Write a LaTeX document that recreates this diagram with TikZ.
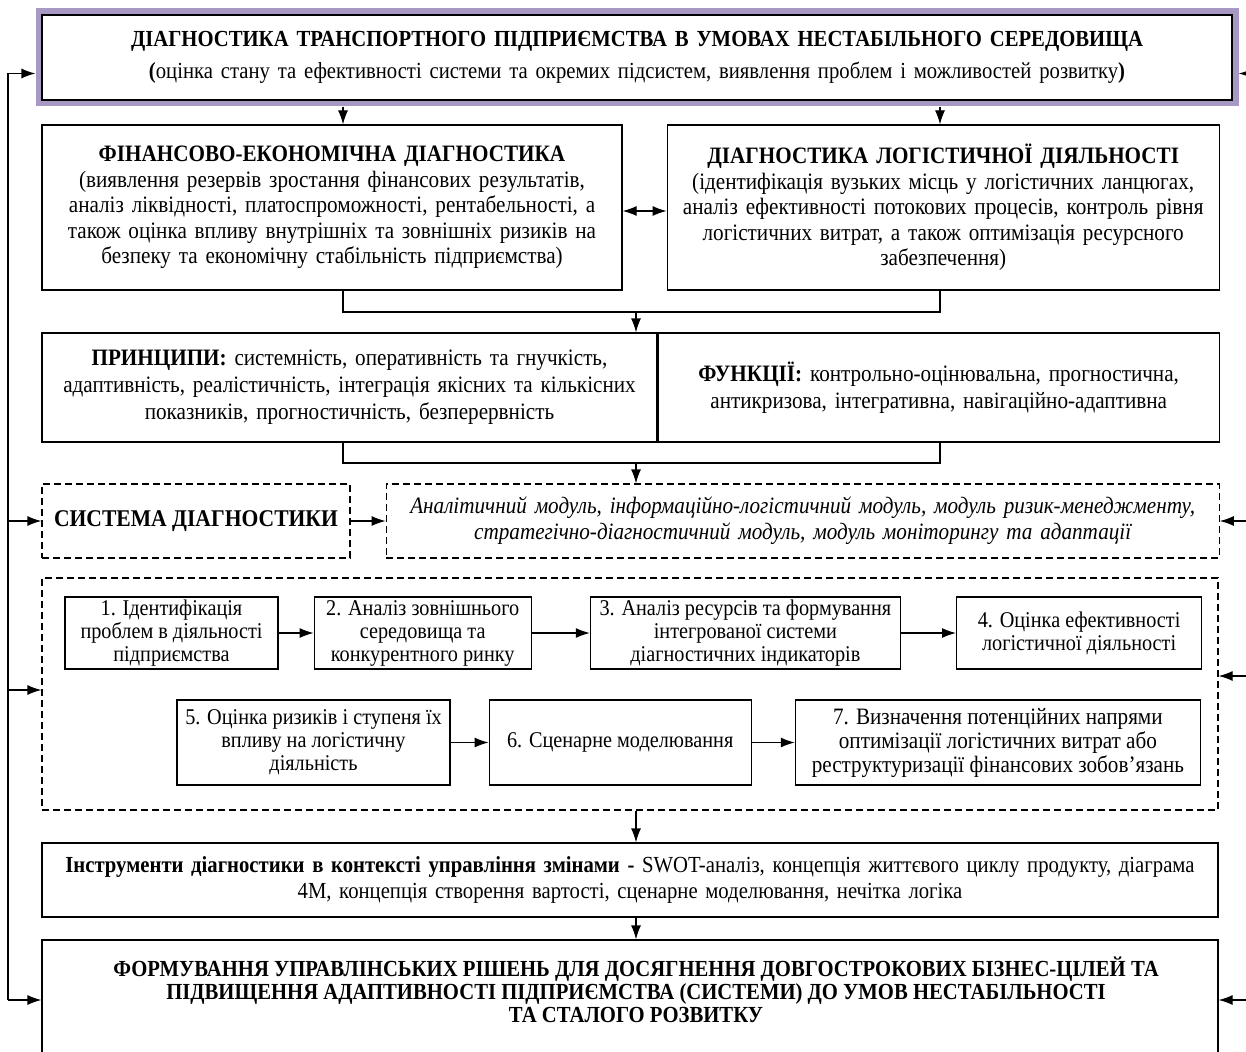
\documentclass[tikz,border=0pt]{standalone}
\usepackage{fontspec}
\setmainfont{Liberation Serif}[FakeStretch=0.9]
\usepackage{tikz}
\usetikzlibrary{arrows.meta, positioning}
\definecolor{framepurple}{RGB}{168,153,196}
\tikzstyle{box} = [rectangle, draw=black, line width=1.2pt, align=center, inner sep=2pt, font=\fontsize{23.5}{25.5}\selectfont]
\tikzstyle{dbox} = [box, dash pattern=on 7pt off 4pt]
\tikzstyle{stepbox} = [box, font=\fontsize{22.5}{23}\selectfont]
\tikzstyle{conn} = [line width=1.2pt]
\tikzstyle{arrow} = [line width=1.2pt, -{Latex[length=14pt, width=10pt]}]
\tikzstyle{darrow} = [line width=1.2pt, {Latex[length=14pt, width=10pt]}-{Latex[length=14pt, width=10pt]}]

\begin{document}
\begin{tikzpicture}[x=1pt, y=-1pt]
\useasboundingbox (0,0) rectangle (1246,1051);

% main block
\node (top) [box, fill=white, preaction={draw=framepurple, line width=13pt}, minimum width=1190pt, minimum height=85pt, text width=1176pt] at (637,57.5)
  {\fontsize{23}{25}\selectfont\textbf{ДІАГНОСТИКА ТРАНСПОРТНОГО ПІДПРИЄМСТВА В УМОВАХ НЕСТАБІЛЬНОГО СЕРЕДОВИЩА}\\[7pt]
   \textbf{(}оцінка стану та ефективності системи та окремих підсистем, виявлення проблем і можливостей розвитку\textbf{)}};

\node (fin) [box, minimum width=580pt, minimum height=165pt, text width=570pt] at (332,207.5)
  {\textbf{ФІНАНСОВО-ЕКОНОМІЧНА ДІАГНОСТИКА}\\
   (виявлення резервів зростання фінансових результатів,\\
   аналіз ліквідності, платоспроможності, рентабельності, а\\
   також оцінка впливу внутрішніх та зовнішніх ризиків на\\
   безпеку та економічну стабільність підприємства)};
\node (log) [box, right=44pt of fin, minimum width=552pt, minimum height=165pt, text width=544pt]
  {\textbf{ДІАГНОСТИКА ЛОГІСТИЧНОЇ ДІЯЛЬНОСТІ}\\
   (ідентифікація вузьких місць у логістичних ланцюгах,\\
   аналіз ефективності потокових процесів, контроль рівня\\
   логістичних витрат, а також оптимізація ресурсного\\
   забезпечення)};

\node (princ) [box, minimum width=615pt, minimum height=109pt, text width=605pt, font=\fontsize{23.5}{27}\selectfont] at (349.5,387.5)
  {\textbf{ПРИНЦИПИ:} системність, оперативність та гнучкість,\\
   адаптивність, реалістичність, інтеграція якісних та кількісних\\
   показників, прогностичність, безперервність};
\node (func) [box, right=0pt of princ, minimum width=561pt, minimum height=109pt, text width=552pt, font=\fontsize{23.5}{27}\selectfont]
  {\textbf{ФУНКЦІЇ:} контрольно-оцінювальна, прогностична,\\
   антикризова, інтегративна, навігаційно-адаптивна};

\node (sys) [dbox, minimum width=308pt, minimum height=74pt, font=\fontsize{24}{26}\selectfont\bfseries] at (196,521)
  {СИСТЕМА ДІАГНОСТИКИ};
\node (mod) [dbox, right=35pt of sys, minimum width=833pt, minimum height=74pt, text width=824pt, font=\fontsize{23.5}{26}\selectfont\itshape]
  {Аналітичний модуль, інформаційно-логістичний модуль, модуль ризик-менеджменту,\\
   стратегічно-діагностичний модуль, модуль моніторингу та адаптації};

% stages
\node (big) [dbox, minimum width=1176pt, minimum height=232pt] at (630,694) {};
\node (s1) [stepbox, minimum width=213pt, minimum height=72pt] at (171.5,633)
  {1. Ідентифікація\\ проблем в діяльності\\ підприємства};
\node (s2) [stepbox, right=35pt of s1, minimum width=217pt, minimum height=72pt]
  {2. Аналіз зовнішнього\\ середовища та\\ конкурентного ринку};
\node (s3) [stepbox, right=58pt of s2, minimum width=310pt, minimum height=72pt]
  {3. Аналіз ресурсів та формування\\ інтегрованої системи\\ діагностичних індикаторів};
\node (s4) [stepbox, right=55pt of s3, minimum width=245pt, minimum height=72pt]
  {4. Оцінка ефективності\\ логістичної діяльності};
\node (s5) [stepbox, minimum width=273pt, minimum height=85pt] at (313.5,742.5)
  {5. Оцінка ризиків і ступеня їх\\ впливу на логістичну\\ діяльність};
\node (s6) [stepbox, right=38pt of s5, minimum width=262pt, minimum height=85pt]
  {6. Сценарне моделювання};
\node (s7) [stepbox, right=43pt of s6, minimum width=405pt, minimum height=85pt, font=\fontsize{23.5}{24}\selectfont]
  {7. Визначення потенційних напрями\\ оптимізації логістичних витрат або\\ реструктуризації фінансових зобов’язань};

\node (instr) [box, minimum width=1176pt, minimum height=74pt, text width=1168pt, font=\fontsize{23}{26}\selectfont] at (630,880)
  {\textbf{Інструменти діагностики в контексті управління змінами -} SWOT-аналіз, концепція життєвого циклу продукту, діаграма\\
   4М, концепція створення вартості, сценарне моделювання, нечітка логіка};

\node (bot) [box, minimum width=1176pt, minimum height=118pt] at (630,999) {};
\node (bottxt) [align=center, font=\fontsize{23}{23}\selectfont\bfseries] at (636,990)
  {ФОРМУВАННЯ УПРАВЛІНСЬКИХ РІШЕНЬ ДЛЯ ДОСЯГНЕННЯ ДОВГОСТРОКОВИХ БІЗНЕС-ЦІЛЕЙ ТА\\
   ПІДВИЩЕННЯ АДАПТИВНОСТІ ПІДПРИЄМСТВА (СИСТЕМИ) ДО УМОВ НЕСТАБІЛЬНОСТІ\\
   ТА СТАЛОГО РОЗВИТКУ};

% helper points
\coordinate (lx) at (343,0);
\coordinate (rx) at (940,0);
\coordinate (mx) at (636,0);
\coordinate (j1) at (0,312);
\coordinate (j2) at (0,463);
\coordinate (topb) at ([yshift=-6pt]top.south);
\coordinate (lbus) at (8,0);
\coordinate (rbus) at (1246,0);
\coordinate (inTop) at ([xshift=-6pt, yshift=-16pt]top.west);
\coordinate (inBig) at ([yshift=4pt]big.west);
\coordinate (inBot) at ([yshift=-1pt]bot.west);
\coordinate (outTop) at ([xshift=6pt, yshift=-16pt]top.east);
\coordinate (outBig) at ([yshift=18pt]big.east);
\coordinate (outBot) at ([yshift=-1pt]bot.east);

% vertical flow
\draw [arrow] (topb -| lx) -- (fin.north -| lx);
\draw [arrow] (topb -| rx) -- (log.north -| rx);
\draw [darrow] ([yshift=-3.5pt]fin.east) -- ([yshift=-3.5pt]log.west);
\draw [conn] (fin.south -| lx) |- (j1 -| rx) -- (log.south -| rx);
\draw [arrow] (j1 -| mx) -- (princ.north -| mx);
\draw [conn] (princ.south -| lx) |- (j2 -| rx) -- (func.south -| rx);
\draw [arrow] (j2 -| mx) -- (mod.north -| mx);
\draw [arrow] (sys) -- (mod);
\draw [arrow] (s1) -- (s2);
\draw [arrow] (s2) -- (s3);
\draw [arrow] (s3) -- (s4);
\draw [arrow] (s5) -- (s6);
\draw [arrow] (s6) -- (s7);
\draw [arrow] (big.south -| mx) -- (instr.north -| mx);
\draw [arrow] (instr.south -| mx) -- (bot.north -| mx);

% feedback lines
\draw [conn] (lbus |- inTop) -- (lbus |- inBot);
\foreach \n in {inTop, sys.west, inBig, inBot}
  \draw [arrow] (lbus |- \n) -- (\n);
\foreach \n in {outTop, mod.east, outBig, outBot}
  \draw [arrow] (rbus |- \n) -- (\n);
\end{tikzpicture}
\end{document}
